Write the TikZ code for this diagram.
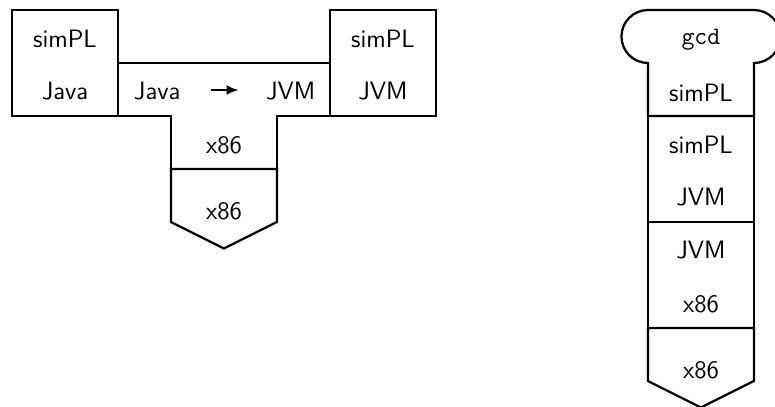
\documentclass[tikz,border=0pt]{standalone}
\usetikzlibrary{arrows.meta}
\tikzset{
  tomb/.style={line width=1.2pt, line join=miter},
  lbl/.style={inner sep=0pt, font=\fontsize{13.5}{16}\sffamily, text depth=0pt},
  prog/.style={inner sep=0pt, font=\fontsize{13.5}{16}\ttfamily, text depth=0pt},
  arr/.style={line width=0.6pt, -{Latex[length=2.2mm,width=1.8mm]}}
}
\begin{document}
\begin{tikzpicture}[x=1cm,y=1cm]
\useasboundingbox (0,0) rectangle (14.623,-7.679);
\begin{scope}[shift={(0.226,-0.189)}]
  % ---------- left: compiling the simPL interpreter ----------
  % interpreter simPL in Java
  \draw[tomb] (0,0) rectangle (2,-2);
  \node[lbl] (a1) at (1,-0.55) {simPL};
  \node[lbl] (a2) at (1,-1.52) {Java};
  % compiler Java -> JVM in x86
  \draw[tomb] (2,-1) -- (6,-1) -- (6,-2) -- (5,-2) -- (5,-3) -- (3,-3) -- (3,-2) -- (2,-2) -- cycle;
  \node[lbl] (c1) at (2.74,-1.52) {Java};
  \coordinate (cs) at (3.75,-1.51);
  \coordinate (ce) at (4.27,-1.51);
  \draw[arr] (cs) -- (ce);
  \node[lbl] (c2) at (5.26,-1.52) {JVM};
  \node[lbl] (c3) at (4,-2.55) {x86};
  % result: interpreter simPL in JVM
  \draw[tomb] (6,0) rectangle (8,-2);
  \node[lbl] (b1) at (7,-0.55) {simPL};
  \node[lbl] (b2) at (7,-1.52) {JVM};
  % machine x86
  \draw[tomb] (3,-3) -- (5,-3) -- (5,-4) -- (4,-4.5) -- (3,-4) -- cycle;
  \node[lbl] (m1) at (4,-3.79) {x86};

  % ---------- right: running gcd ----------
  \draw[tomb] (12,0) -- (14,0) arc[start angle=90, end angle=-90, radius=0.5]
     -- (14,-2) -- (12,-2) -- (12,-1) arc[start angle=270, end angle=90, radius=0.5] -- cycle;
  \node[prog] (p1) at (13,-0.5) {gcd};
  \node[lbl] (p2) at (13,-1.56) {simPL};
  \draw[tomb] (12,-2) rectangle (14,-4);
  \node[lbl] (i1) at (13,-2.55) {simPL};
  \node[lbl] (i2) at (13,-3.52) {JVM};
  \draw[tomb] (12,-4) rectangle (14,-6);
  \node[lbl] (j1) at (13,-4.52) {JVM};
  \node[lbl] (j2) at (13,-5.55) {x86};
  \draw[tomb] (12,-6) -- (14,-6) -- (14,-7) -- (13,-7.5) -- (12,-7) -- cycle;
  \node[lbl] (n1) at (13,-6.79) {x86};
\end{scope}
\end{tikzpicture}
\end{document}
